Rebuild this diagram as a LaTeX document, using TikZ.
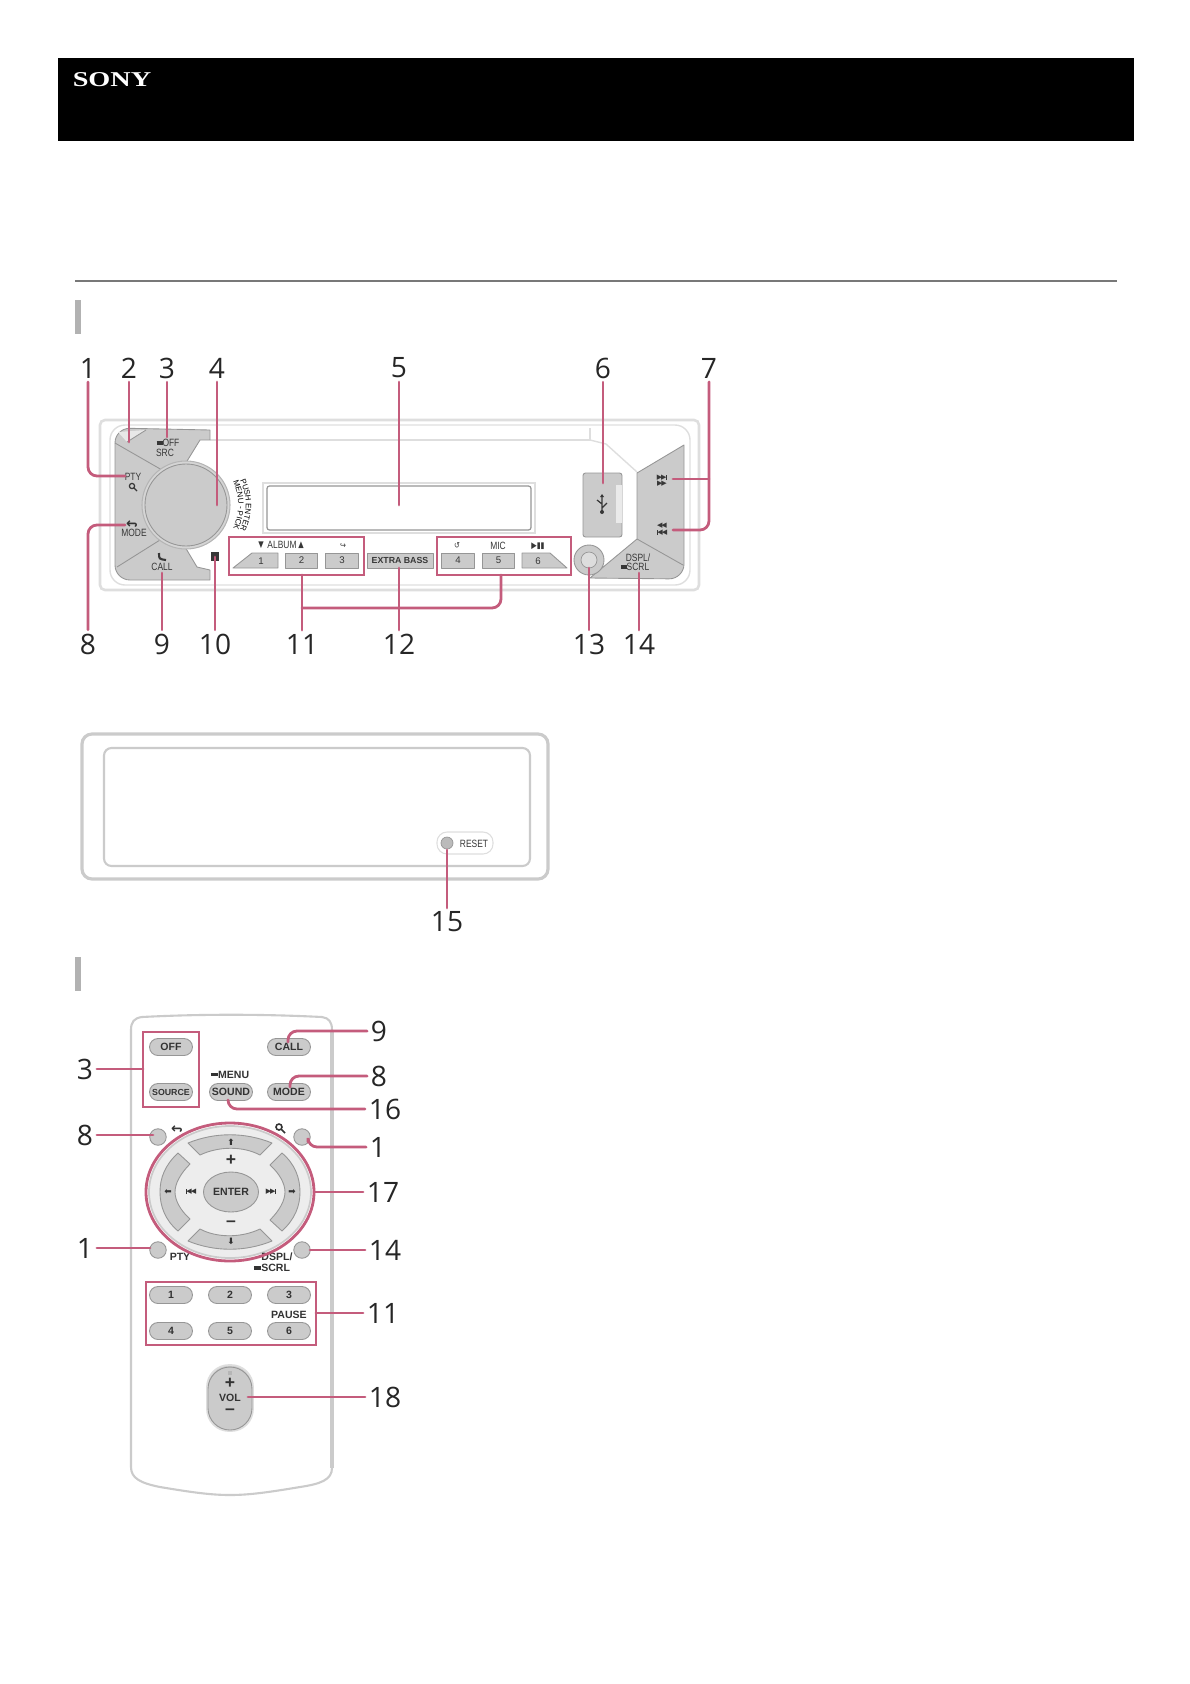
\documentclass[tikz,border=0pt]{standalone}
\usepackage{fontspec}
\setmainfont{Liberation Sans}
\newfontfamily\numfont{Open Sans}
\newfontfamily\symfont{DejaVu Sans}
\newfontfamily\logofont{Liberation Serif}
\usetikzlibrary{decorations.text}
\definecolor{callpink}{RGB}{196,92,124}
\definecolor{panelgray}{RGB}{203,203,203}
\definecolor{edgegray}{RGB}{150,150,150}
\definecolor{framegray}{RGB}{222,222,222}
\definecolor{textgray}{RGB}{55,55,55}
\newcommand{\fwdsym}{{\symfont\fontsize{4}{4}\selectfont ▶\kern-.15em▶\kern-.05em\rule[-.05em]{.14em}{.7em}}}
\newcommand{\revsym}{{\symfont\fontsize{4}{4}\selectfont \rule[-.05em]{.14em}{.7em}\kern-.05em◀\kern-.15em◀}}
\newcommand{\fwdtwo}{{\symfont\fontsize{4}{4}\selectfont ▶\kern-.15em▶}}
\newcommand{\revtwo}{{\symfont\fontsize{4}{4}\selectfont ◀\kern-.15em◀}}
\newcommand{\smsym}[1]{{\symfont\fontsize{5}{5}\selectfont #1}}
\newcommand{\backsym}{{\symfont\fontsize{8}{8}\selectfont\scalebox{1}[-1]{↩}}}
\begin{document}
\begin{tikzpicture}[x=.02cm,y=-.02cm,
    num/.style={font=\numfont\fontsize{16}{16}\selectfont,text=black!85,inner sep=2pt},
    lab/.style={font=\fontsize{6}{6}\selectfont,text=textgray,inner sep=0,xscale=.8},
    rlab/.style={font=\bfseries\fontsize{6}{6}\selectfont,text=black!80,inner sep=0},
    callout/.style={draw=callpink,line width=1.6pt,line cap=round,rounded corners=1.8mm},
    callbox/.style={draw=callpink,line width=1.6pt},
    panel/.style={fill=panelgray,draw=edgegray,line width=.5pt,line join=round},
    key/.style={panel,rectangle,inner sep=0,minimum width=.65cm,minimum height=.3cm,font=\fontsize{5.5}{6}\selectfont,text=textgray},
    pill/.style={panel,rectangle,rounded corners=.17cm,inner sep=0,minimum width=.86cm,minimum height=.34cm,font=\bfseries\fontsize{6}{6}\selectfont,text=black!80},
    round key/.style={panel,circle,inner sep=0,minimum size=.33cm}]
    \useasboundingbox (0,0) rectangle (1190,1684);
    \fill[black] (58,58) rectangle (1134,141);
    \node[font=\logofont\bfseries\fontsize{12}{12}\selectfont,text=white,xscale=1.34,inner sep=0] (logo) at (112,80) {SONY};
    \draw[edgegray!80!black,line width=1pt] (75,281) -- (1117,281);
    \fill[black!30] (75,300) rectangle (81,334);
    \fill[black!30] (75,957) rectangle (81,991);
    \draw[framegray,line width=1.5pt,rounded corners=1mm] (100,420) rectangle (699,590);
    \draw[framegray,line width=.8pt,rounded corners=3mm] (110,425) rectangle (690,585);
    \draw[framegray,line width=.8pt] (210,440) -- (590,440) -- (590,428);
    \draw[framegray,line width=.8pt] (590,440) -- (606,444) -- (637,472);
    \filldraw[panel] (210,430) [rounded corners=3mm] -- (115,428) -- (115,580) [sharp corners] -- (210,580) -- (210,570) -- (197,567) -- (160,505) -- (200,440) -- (210,440) -- cycle;
    \fill[panelgray!45] (118,432) -- (146,430) -- (127,442) -- cycle;
    \draw[edgegray,line width=.5pt] (115,443) -- (162,470) (117,567) -- (160,540) (127,442) -- (146,430);
    \filldraw[fill=panelgray!80,draw=edgegray!70,line width=.6pt] (186,505) circle [radius=44];
    \filldraw[panel] (186,505) circle [radius=41];
    \path[decorate,decoration={text along path,text align=center,text={|\fontsize{4.5}{5}\selectfont|PUSH ENTER}}] (239,478) .. controls (248,497) and (248,513) .. (239,532);
    \path[decorate,decoration={text along path,text align=center,text={|\fontsize{4.5}{5}\selectfont|MENU - PICK}}] (233,481) .. controls (240,498) and (240,512) .. (233,529);
    \filldraw[fill=white,draw=framegray,line width=.8pt] (263,483) rectangle (535,533);
    \draw[edgegray,line width=.7pt,rounded corners=.5mm] (267,486) rectangle (531,530);
    \filldraw[panel] (233,568) -- (252,553) -- (278,553) -- (278,568) -- cycle;
    \filldraw[panel] (522,553) -- (550,553) -- (567,568) -- (522,568) -- cycle;
    \node[inner sep=0,font=\fontsize{5.5}{6}\selectfont,text=textgray] (k1) at (261,561) {1};
    \node[inner sep=0,font=\fontsize{5.5}{6}\selectfont,text=textgray] (k6) at (538,561) {6};
    \foreach \n/\x/\t in {k2/301.5/2,k3/342/3,k4/458/4,k5/498.5/5}
    \node[key] (\n) at (\x,560.5) {\t};
    \node[key,minimum width=1.32cm,font=\bfseries\fontsize{5}{6}\selectfont] (kBass) at (400,560.5) {EXTRA BASS};
    \filldraw[panel,rounded corners=.5mm] (583,473) rectangle (622,537);
    \fill[white!60!panelgray] (616,485) rectangle (622,523);
    \draw[textgray,line width=.7pt] (602,497) -- (602,511) (602,504) -- (597,500) (602,508) -- (607,503);
    \fill[textgray] (602,512) circle [radius=2] (602,494) -- (600,497) -- (604,497) -- cycle;
    \filldraw[panel] (684,445) -- (637,473) -- (637,539) -- (590,578) [rounded corners=3mm] -- (684,579) [sharp corners] -- cycle;
    \draw[edgegray,line width=.5pt] (637,539) -- (683,565);
    \filldraw[panel] (589,560) circle [radius=15];
    \filldraw[fill=panelgray!65,draw=edgegray] (589,560) circle [radius=8];
    \fill[textgray] (211,552) rectangle (219,561);
    \draw[panelgray,line width=1.8pt,rounded corners=2mm] (82,734) rectangle (548,879);
    \draw[panelgray,line width=1.2pt,rounded corners=1.5mm] (104,748) rectangle (530,866);
    \filldraw[fill=white,draw=framegray,line width=.6pt,rounded corners=2mm] (437,832) rectangle (493,854);
    \filldraw[fill=panelgray!70!edgegray,draw=edgegray] (447,843) circle [radius=6];
    \foreach \n/\x/\y/\t in {lOff/168/443/{\rule[.2em]{.7em}{.3em}OFF},lSrc/165/453/SRC,lPty/133/477/PTY,lMode/134/533/MODE,lCall/162/567/CALL,lAlbum/282/545/ALBUM,lMic/498/546/MIC,lDspl/638/558/{DSPL/},lScrl/635/567/{\rule[.2em]{.7em}{.3em}SCRL},lReset/474/844/RESET}
    \node[lab] (\n) at (\x,\y) {\t};
    \foreach \n/\x/\y/\t in {sDown/261/545/▼,sUp/301/545/▲,sTurn/343/546/↪,sRep/457/546/↺,sPlay/538/546/{▶▮▮}}
    \node[lab] (\n) at (\x,\y) {\smsym{\t}};
    \foreach \n/\x/\y/\t in {sF1/662/478/\fwdsym,sF2/662/484/\fwdtwo,sR1/662/526/\revtwo,sR2/662/533/\revsym}
    \node[lab,xscale=1.25] (\n) at (\x,\y) {\t};
    \node[rlab] (sBack) at (132,523) {\backsym};
    \draw[textgray,line width=.7pt] (132,486) circle [radius=2.6] (134,488) -- (137,491);
    \draw[textgray,line width=1.2pt] (159,553) .. controls (159,559) .. (166,560);
    \draw[panelgray,line width=1.2pt,line cap=round] (332,1030) -- (332,1468) .. controls (332,1480) and (320,1484) .. (300,1487) .. controls (270,1492) and (250,1495) .. (230,1495) .. controls (210,1495) and (190,1492) .. (160,1487) .. controls (140,1483) and (131,1478) .. (131,1467) -- (131,1030) .. controls (131,1022) and (134,1018) .. (142,1017) .. controls (200,1014) and (262,1014) .. (322,1017) .. controls (329,1018) and (332,1022) .. (332,1030);
    \draw[panelgray,line width=2pt] (332,1030) -- (332,1468);
    \foreach \n/\x/\y/\t in {pOff/171/1047/OFF,pCall/289/1047/CALL,pMode/289/1092/MODE,pSound/231/1092/SOUND,p1/171/1295/1,p2/230/1295/2,p3/289/1295/3,p4/171/1331/4,p5/230/1331/5,p6/289/1331/6}
    \node[pill] (\n) at (\x,\y) {\t};
    \node[pill,font=\bfseries\fontsize{5}{6}\selectfont] (pSource) at (171,1092) {SOURCE};
    \foreach \n/\x/\y in {rBack/158/1137,rFind/302/1137,rPty/158/1250,rDspl/302/1250}
    \node[round key] (\n) at (\x,\y) {};
    \filldraw[fill=black!7,draw=panelgray,line width=1pt] (230,1192) ellipse [x radius=81,y radius=66];
    \foreach \r in {0,180} {
    \filldraw[panel,rotate around={\r:(230,1192)}] (188,1143) .. controls (215,1132) and (245,1132) .. (272,1143) -- (260,1155) .. controls (243,1146) and (219,1146) .. (200,1155) -- cycle;
    \filldraw[panel,rotate around={\r:(230,1192)}] (178,1153) .. controls (165,1165) and (160,1178) .. (160,1192) .. controls (160,1206) and (165,1220) .. (178,1231) -- (190,1219) .. controls (180,1210) and (175,1200) .. (175,1192) .. controls (175,1184) and (180,1174) .. (190,1164) -- cycle;
    }
    \filldraw[panel] (231,1192) ellipse [x radius=27.5,y radius=20];
    \foreach \n/\x/\y/\t in {lEnter/231/1192/ENTER,lMenu/230/1075/{\rule[.2em]{.7em}{.3em}MENU},lPty2/180/1257/PTY,lDspl2/277/1257/{DSPL/},lScrl2/272/1268/{\rule[.2em]{.7em}{.3em}SCRL},lPause/289/1315/PAUSE}
    \node[rlab] (\n) at (\x,\y) {\t};
    \foreach \n/\x/\y/\t in {lPlus/231/1160/+,lMinus/231/1224/--}
    \node[rlab,font=\bfseries\fontsize{10}{10}\selectfont] (\n) at (\x,\y) {\t};
    \foreach \n/\x/\y/\t in {aUp/231/1142/⬆,aDown/231/1241/⬇,aLeft/168/1192/⬅,aRight/292/1192/➡}
    \node[rlab] (\n) at (\x,\y) {\smsym{\t}};
    \node[rlab] (lPrev) at (191,1192) {\revsym};
    \node[rlab] (lNext) at (271,1192) {\fwdsym};
    \node[rlab] (sBack2) at (177,1128) {\backsym};
    \draw[black!80,line width=.9pt] (279,1127) circle [radius=3] (281,1129) -- (285,1133);
    \filldraw[fill=panelgray,draw=framegray,line width=1pt,rounded corners=4.4mm] (207,1365) rectangle (253,1431);
    \draw[edgegray,line width=.5pt,rounded corners=4.4mm] (208,1367) rectangle (252,1430);
    \fill[edgegray!70] (228,1371) rectangle (232,1375);
    \node[rlab,font=\bfseries\fontsize{10}{10}\selectfont] (vPlus) at (230,1383) {+};
    \node[rlab] (vVol) at (230,1398) {VOL};
    \node[rlab,font=\bfseries\fontsize{10}{10}\selectfont] (vMinus) at (230,1412) {--};
    \foreach \n/\x/\y/\t in {n1/88/368/1,n2/129/368/2,n3/167/368/3,n4/217/368/4,n5/399/368/5,n6/603/368/6,n7/709/368/7,n8/88/644/8,n9/162/644/9,n10/215/644/10,n11/302/644/11,n12/399/644/12,n13/589/644/13,n14/639/644/14,n15/447/922/15,m3/85/1069/3,m9/379/1031/9,m8/379/1076/8,m16/385/1109/16,m8b/85/1135/8,m1/378/1147/1,m17/383/1192/17,m1b/85/1248/1,m14/385/1250/14,m11/383/1313/11,m18/385/1397/18}
    \node[num] (\n) at (\x,\y) {\t};
    \foreach \n/\x/\y in {c1/125/476,c2/129/442,c3/167/437,c4/217/505,c5/399/505,c6/603/483,c7a/673/479,c7b/673/530,c8/125/525,c9/162/573,c10/215/557,c12/399/568,c13/589/568,c14/639/573,c15/447/850,d9/288/1042,d8/290/1087,d16/228/1100,d8b/153/1135,d1/308/1142,d1b/150/1248,d14/310/1250,d18/248/1397,e3/143/1069,e17/314/1192,e11/316/1313,b11a/302/575,b11b/501/575,j11/302/608}
    \coordinate (\n) at (\x,\y);
    \draw[callbox] (229,537) rectangle (364,575);
    \draw[callbox] (437,537) rectangle (571,575);
    \draw[callbox] (143,1032) rectangle (199,1107);
    \draw[callbox] (146,1282) rectangle (316,1345);
    \draw[callbox] (230,1192) ellipse [x radius=84,y radius=69];
    \foreach \a/\b in {n2/c2,n3/c3,n4/c4,n5/c5,n6/c6,n9/c9,n10/c10,n11/b11a,n12/c12,n13/c13,n14/c14,n15/c15,m3/e3,m17/e17,m11/e11,m8b/d8b,m1b/d1b,m14/d14,m18/d18}
    \draw[callout] (\a) -- (\b);
    \draw[callout] (n1) |- (c1);
    \draw[callout] (n8) |- (c8);
    \draw[callout] (n7) |- (c7b);
    \draw[callout] (c7a) -- (c7a -| n7);
    \draw[callout] (j11) -| (b11b);
    \draw[callout] (m9) -| (d9);
    \draw[callout] (m8) -| (d8);
    \draw[callout] (m16) -| (d16);
    \draw[callout] (m1) -| (d1);
\end{tikzpicture}
\end{document}
